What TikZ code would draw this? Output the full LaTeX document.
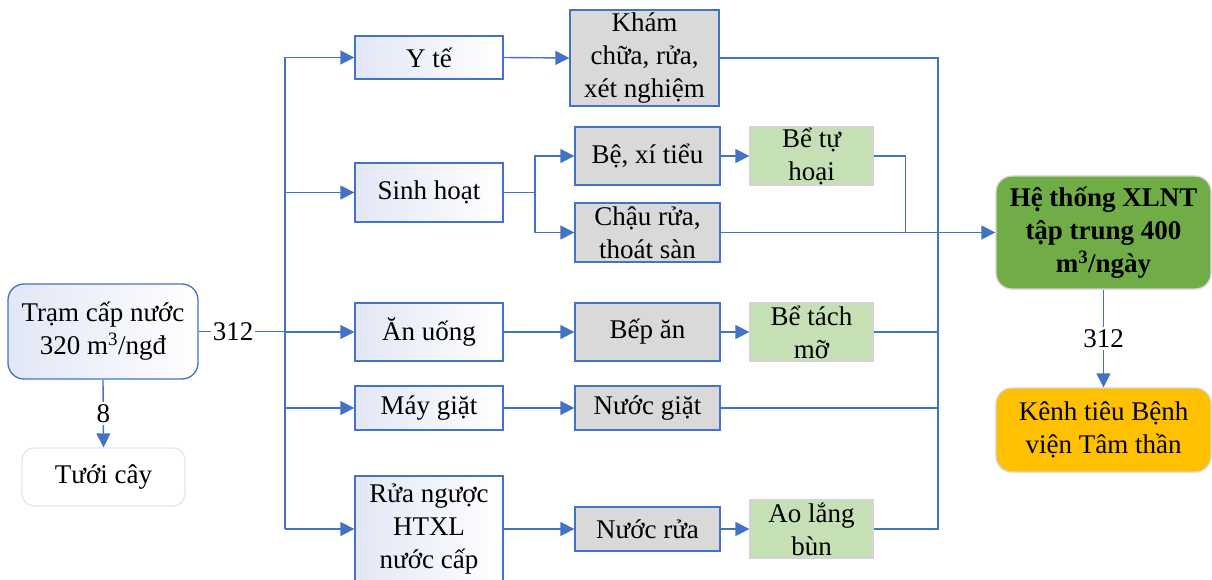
\documentclass[tikz,border=0pt]{standalone}
\usepackage{fontspec}
\setmainfont{Liberation Serif}
\usetikzlibrary{arrows.meta}
\definecolor{lineblue}{HTML}{4472C4}
\definecolor{boxgray}{HTML}{D9D9D9}
\definecolor{boxgreen}{HTML}{C5E0B4}
\definecolor{darkgreen}{HTML}{70AD47}
\definecolor{amber}{HTML}{FFC000}
\definecolor{paleblue}{HTML}{E2E7F6}
\definecolor{softedge}{HTML}{D4D4D4}
\tikzset{
  base/.style={inner sep=0pt, align=center, font=\fontsize{27}{33}\selectfont},
  usebox/.style={base, draw=lineblue, line width=1.3pt, left color=paleblue, right color=white},
  srcbox/.style={base, draw=lineblue, line width=1.3pt, fill=boxgray},
  tankbox/.style={base, draw=softedge, line width=1.3pt, fill=boxgreen},
  roundbox/.style={base, rounded corners=16pt, line width=1.3pt},
  flow/.style={draw=lineblue, line width=1.4pt},
  arr/.style={flow, -{Triangle[length=14pt,width=14pt]}},
  qty/.style={base, fill=white, inner sep=2pt}
}
\begin{document}
\begin{tikzpicture}[x=1pt,y=-1pt]
\useasboundingbox (0,0) rectangle (1212,580);

% supply and irrigation
\node[roundbox, draw=lineblue, left color=paleblue, right color=white,
      minimum width=190pt, minimum height=95pt] (tram) at (103,331.5)
      {Trạm cấp nước\\320 m\textsuperscript{3}/ngđ};
\node[roundbox, rounded corners=12pt, draw=paleblue, fill=white,
      minimum width=163pt, minimum height=58pt] (tuoi) at (103.5,477) {Tưới cây};

% water uses
\node[usebox, minimum width=148pt, minimum height=43pt] (yte) at (429,57.5) {Y tế};
\node[usebox, minimum width=148pt, minimum height=59pt] (sinh) at (429,192.5) {Sinh hoạt};
\node[usebox, minimum width=148pt, minimum height=58pt] (an) at (429,332) {Ăn uống};
\node[usebox, minimum width=148pt, minimum height=44pt] (may) at (429,408) {Máy giặt};
\node[usebox, minimum width=148pt, minimum height=106pt] (rua) at (429,529)
      {Rửa ngược\\HTXL\\nước cấp};

% wastewater sources
\node[srcbox, minimum width=149pt, minimum height=96pt] (kham) at (644.5,58)
      {Khám\\chữa, rửa,\\xét nghiệm};
\node[srcbox, minimum width=145pt, minimum height=58pt] (be) at (647.5,156) {Bệ, xí tiểu};
\node[srcbox, minimum width=145pt, minimum height=59pt] (chau) at (647.5,232.5)
      {Chậu rửa,\\thoát sàn};
\node[srcbox, minimum width=145pt, minimum height=58pt] (bep) at (647.5,332) {Bếp ăn};
\node[srcbox, minimum width=145pt, minimum height=44pt] (ngiat) at (647.5,408) {Nước giặt};
\node[srcbox, minimum width=145pt, minimum height=44pt] (nrua) at (647.5,529) {Nước rửa};

% pre-treatment tanks
\node[tankbox, minimum width=123pt, minimum height=58pt] (tuhoai) at (811.5,156) {Bể tự\\hoại};
\node[tankbox, minimum width=123pt, minimum height=58pt] (tachmo) at (811.5,332) {Bể tách\\mỡ};
\node[tankbox, minimum width=123pt, minimum height=58pt] (aolang) at (811.5,529) {Ao lắng\\bùn};

% treatment plant and receiving channel
\node[roundbox, draw=softedge, fill=darkgreen, minimum width=215pt, minimum height=113pt,
      font=\fontsize{27}{33}\selectfont\bfseries] (xlnt) at (1103.5,232.5)
      {Hệ thống XLNT\\tập trung 400\\m\textsuperscript{3}/ngày};
\node[roundbox, draw=softedge, fill=amber, minimum width=215pt, minimum height=84pt]
      (kenh) at (1103.5,430) {Kênh tiêu Bệnh\\viện Tâm thần};

% distribution trunk
\coordinate (ttop) at (285,57.5);
\coordinate (tbot) at (285,529);
\draw[flow] (ttop) -- (tbot);
\draw[flow] (tram.east) -- (ttop |- tram.east) node[qty, pos=0.4] {312};
\foreach \n in {yte,sinh,an,may,rua}
  \draw[arr] (ttop |- \n.west) -- (\n.west);

\draw[arr] (tram.south) -- (tuoi.north) node[qty, pos=0.5] {8};

% uses to sources
\draw[arr] (yte.east) -- (kham.west);
\coordinate (split) at (535,192.5);
\draw[flow] (sinh.east) -- (split);
\draw[arr] (split) |- (be.west);
\draw[arr] (split) |- (chau.west);
\draw[arr] (an.east) -- (bep.west);
\draw[arr] (may.east) -- (ngiat.west);
\draw[arr] (rua.east) -- (nrua.west);

% sources to tanks
\draw[arr] (be.east) -- (tuhoai.west);
\draw[arr] (bep.east) -- (tachmo.west);
\draw[arr] (nrua.east) -- (aolang.west);

% collection to the treatment plant
\coordinate (ctop) at (938,58);
\coordinate (cbot) at (938,529);
\draw[flow] (kham.east) -- (ctop) -- (cbot) -- (aolang.east);
\draw[flow] (tachmo.east) -- (ctop |- tachmo.east);
\draw[flow] (ngiat.east) -- (ctop |- ngiat.east);
\draw[flow] (tuhoai.east) -- ++(32,0) |- (xlnt.west);
\draw[arr] (chau.east) -- (xlnt.west);

\draw[arr] (xlnt.south) -- (kenh.north) node[qty, pos=0.5] {312};
\end{tikzpicture}
\end{document}
